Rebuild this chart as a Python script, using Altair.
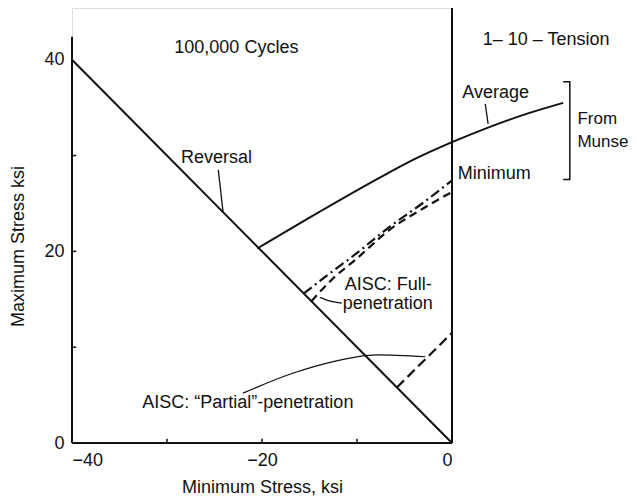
import altair as alt
import pandas as pd

FONT = "Liberation Sans"
INK = "#111111"

# Reversal line
rev_x = [-40, 0]
rev_y = [40, 0]
# Average (from Munse)
avg_x = [-20.5, -14, -7.6, -4, 0, 4, 8, 11.7]
avg_y = [20.3, 24.1, 27.7, 29.6, 31.4, 33.0, 34.4, 35.5]
# Minimum (dash-dot)
min_x = [-15.6, -13, -10.7, -6.5, -3, 0]
min_y = [15.6, 17.6, 19.3, 22.6, 25.1, 27.4]
# AISC full-penetration (dashed)
full_x = [-14.8, -12.5, -10.2, -6.5, -3, 0]
full_y = [14.8, 17.2, 19.1, 22.3, 24.5, 26.2]
# AISC partial-penetration (dashed)
part_x = [-5.8, 0]
part_y = [5.8, 11.5]

# leader lines / bracket
lead_rev_x = [-24.6, -24.1]
lead_rev_y = [28.5, 24.1]
lead_avg_x = [3.5, 3.8]
lead_avg_y = [35.4, 33.3]
lead_full_x = [-13.9, -12.8, -11.6]
lead_full_y = [15.2, 14.8, 14.6]
lead_part_x = [-22.0, -16.7, -12.5, -7.9, -2.8]
lead_part_y = [5.2, 7.3, 8.5, 9.2, 9.0]
brk_x = [11.7, 12.4, 12.4, 11.7]
brk_y = [37.7, 37.7, 27.5, 27.5]

# labels
lab_c_text = ["100,000 Cycles", "1\u2013 10 \u2013 Tension", "Average", "Reversal"]
lab_c_x = [-22.7, 9.9, 4.6, -24.8]
lab_c_y = [41.2, 42.1, 36.5, 29.7]
lab_l_text = ["Minimum", "AISC: Full-", "penetration",
              "AISC: \u201cPartial\u201d-penetration"]
lab_l_x = [0.6, -11.3, -11.5, -32.6]
lab_l_y = [28.1, 16.5, 14.5, 4.2]
lab_s_text = ["From", "Munse"]
lab_s_x = [13.2, 13.2]
lab_s_y = [33.8, 31.4]

x_ticks = [-40, -30, -20, -10, 0]
y_ticks = [10, 20, 30]
x_labels = [-40, -20, 0]
y_labels = [0, 20, 40]

xs = alt.Scale(domain=[-40, 0], nice=False, zero=False)
ys = alt.Scale(domain=[0, 45.4], nice=False, zero=False)


def df(x, y):
    return pd.DataFrame({"x": x, "y": y, "o": list(range(len(x)))})


def line(x, y, width=2.0, dash=None, interp="monotone"):
    kw = dict(color=INK, strokeWidth=width, interpolate=interp, clip=False)
    if dash:
        kw["strokeDash"] = dash
    return alt.Chart(df(x, y)).mark_line(**kw).encode(
        x=alt.X("x:Q", scale=xs), y=alt.Y("y:Q", scale=ys), order="o:Q")


base = alt.Chart(df([-40, -20, 0], [0, 20, 40])).mark_point(opacity=0).encode(
    x=alt.X("x:Q", scale=xs, axis=alt.Axis(
        values=x_labels, title="Minimum Stress, ksi", tickSize=0, domain=False,
        grid=False, labelFontSize=18, labelPadding=8, labelFont=FONT, labelColor=INK,
        titleFont=FONT, titleFontSize=18, titleFontWeight="normal", titleColor=INK,
        titleY=49, titleBaseline="alphabetic")),
    y=alt.Y("y:Q", scale=ys, axis=alt.Axis(
        values=y_labels, title="Maximum Stress ksi", tickSize=0, domain=False,
        grid=False, labelFontSize=18, labelPadding=8, labelFont=FONT, labelColor=INK,
        titleFont=FONT, titleFontSize=18, titleFontWeight="normal", titleColor=INK,
        titleX=-54, titleY=238, titleBaseline="middle")),
)

axis_lines = pd.DataFrame({"x": [-40, -40, 0], "x2": [0, -40, 0],
                           "y": [0, 0, 0], "y2": [0, 42.4, 45.4]})
axes = alt.Chart(axis_lines).mark_rule(color=INK, strokeWidth=2).encode(
    x=alt.X("x:Q", scale=xs), x2="x2", y=alt.Y("y:Q", scale=ys), y2="y2")

xt = alt.Chart(pd.DataFrame({"x": x_ticks, "y": [0] * 5, "y2": [0.45] * 5})).mark_rule(
    color=INK, strokeWidth=1.5).encode(x=alt.X("x:Q", scale=xs), y=alt.Y("y:Q", scale=ys), y2="y2")
yt = alt.Chart(pd.DataFrame({"y": y_ticks, "x": [-40] * 3, "x2": [-39.55] * 3})).mark_rule(
    color=INK, strokeWidth=1.5).encode(y=alt.Y("y:Q", scale=ys), x=alt.X("x:Q", scale=xs), x2="x2")

tc = alt.Chart(pd.DataFrame({"t": lab_c_text, "x": lab_c_x, "y": lab_c_y})).mark_text(
    font=FONT, fontSize=18, color=INK, align="center", baseline="middle").encode(
    x=alt.X("x:Q", scale=xs), y=alt.Y("y:Q", scale=ys), text="t:N")
tl = alt.Chart(pd.DataFrame({"t": lab_l_text, "x": lab_l_x, "y": lab_l_y})).mark_text(
    font=FONT, fontSize=18, color=INK, align="left", baseline="middle").encode(
    x=alt.X("x:Q", scale=xs), y=alt.Y("y:Q", scale=ys), text="t:N")
ts = alt.Chart(pd.DataFrame({"t": lab_s_text, "x": lab_s_x, "y": lab_s_y})).mark_text(
    font=FONT, fontSize=17, color=INK, align="left", baseline="middle").encode(
    x=alt.X("x:Q", scale=xs), y=alt.Y("y:Q", scale=ys), text="t:N")

chart = alt.layer(
    base, axes, xt, yt,
    line(rev_x, rev_y, 2.0, interp="linear"),
    line(avg_x, avg_y, 2.0),
    line(min_x, min_y, 2.2, dash=[10, 4, 2, 4]),
    line(full_x, full_y, 2.2, dash=[8, 5]),
    line(part_x, part_y, 2.2, dash=[10, 5], interp="linear"),
    line(lead_rev_x, lead_rev_y, 1.3, interp="linear"),
    line(lead_avg_x, lead_avg_y, 1.3, interp="linear"),
    line(lead_full_x, lead_full_y, 1.3),
    line(lead_part_x, lead_part_y, 1.2),
    line(brk_x, brk_y, 1.5, interp="linear"),
    tc, tl, ts,
).properties(
    width=380, height=435,
    autosize=alt.AutoSizeParams(type="none"),
    padding={"left": 64, "top": 0, "right": 177, "bottom": 53},
).configure_view(stroke=None).configure(background="white")

chart.save("out.html", embed_options={"renderer": "svg", "actions": False})
